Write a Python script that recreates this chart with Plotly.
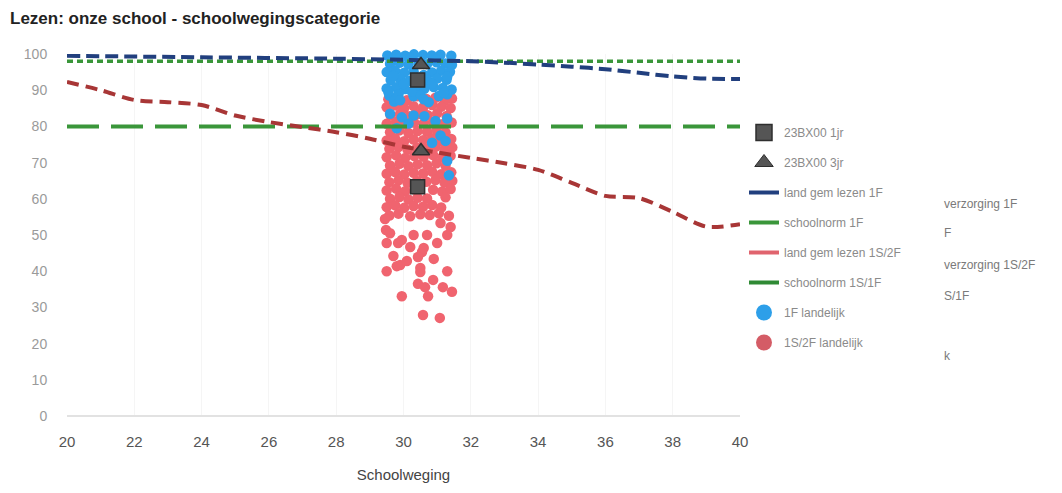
import plotly.graph_objects as go

title_text = "Lezen: onze school - schoolwegingscategorie"
x_ticks = [20, 22, 24, 26, 28, 30, 32, 34, 36, 38, 40]
y_ticks = [0, 10, 20, 30, 40, 50, 60, 70, 80, 90, 100]

# land gem lezen 1F
land_1f_x = [20, 24, 28, 30, 32, 33, 34, 35, 36, 37, 38, 39, 40]
land_1f_y = [99.5, 99.1, 98.7, 98.4, 98.0, 97.6, 97.1, 96.5, 95.8, 94.8, 93.8, 93.2, 93.1]

# schoolnorm 1F
norm_1f_x = [20, 40]
norm_1f_y = [98.0, 98.0]

# land gem lezen 1S/2F
land_1s_x = [20, 21, 22, 23, 24, 25, 26, 27, 28, 29, 30, 31, 32, 33, 34, 35, 36, 37, 38, 39, 40]
land_1s_y = [92.3, 90.0, 87.3, 86.7, 85.9, 83.0, 81.2, 79.8, 78.4, 76.6, 74.4, 72.8, 71.3, 69.8, 68.0, 64.4, 60.8, 60.2, 56.4, 52.3, 53.0]

# schoolnorm 1S/1F
norm_1s_x = [20, 40]
norm_1s_y = [80.0, 80.0]

# 23BX00 1jr / 3jr
school_1jr_x = [30.42, 30.42]
school_1jr_y = [92.8, 63.3]
school_3jr_x = [30.52, 30.52]
school_3jr_y = [97.0, 73.2]

# 1F landelijk
blue_x = [
    29.52, 29.78, 30.05, 30.31, 30.58, 30.84, 31.10, 31.42,
    29.60, 29.88, 30.15, 30.45, 30.70, 30.98, 31.25, 31.44,
    29.50, 29.75, 30.02, 30.30, 30.85, 31.12, 31.38,
    29.62, 29.90, 30.18, 30.45, 30.72, 31.00, 31.28,
    29.50, 29.78, 30.05, 30.35, 30.62, 30.90, 31.17, 31.43,
    29.58, 29.85, 30.30, 30.50, 31.05, 31.30,
    29.72, 30.75,
    29.65, 30.20, 30.95, 29.70, 30.60, 31.30, 30.00, 30.85, 29.55, 30.25, 31.20, 30.60, 29.90,
    29.60, 29.95, 30.30, 30.62, 30.95, 31.30, 30.15, 31.10, 31.25, 30.85, 31.30, 31.35, 29.80,
]
blue_y = [
    99.6, 99.8, 99.5, 99.9, 99.7, 99.6, 99.8, 99.5,
    97.3, 97.6, 97.1, 97.5, 97.2, 97.7, 97.4, 97.0,
    95.0, 95.3, 94.8, 95.2, 94.9, 95.4, 95.1,
    92.8, 93.1, 92.6, 93.0, 92.7, 93.2, 92.9,
    90.5, 90.8, 90.3, 90.7, 90.4, 90.9, 90.6, 90.2,
    88.5, 88.8, 88.3, 88.7, 88.4, 88.9,
    86.9, 86.7,
    98.6, 98.9, 98.4, 94.0, 94.2, 93.8, 91.7, 91.8, 89.5, 89.6, 89.3, 87.5, 87.2,
    83.5, 82.5, 83.0, 82.8, 81.5, 82.2, 80.8, 77.5, 76.0, 75.5, 70.5, 66.5, 79.5,
]

# 1S/2F landelijk
red_x = [
    29.55, 29.82, 30.10, 30.40, 30.68, 30.95, 31.22, 31.44,
    29.50, 29.75, 30.02, 30.30, 30.58, 30.85, 31.12, 31.40,
    29.62, 29.90, 30.18, 30.45, 30.72, 31.00, 31.28,
    29.50, 29.78, 30.05, 30.32, 30.60, 30.88, 31.15, 31.43,
    29.60, 29.88, 30.15, 30.42, 30.70, 30.98, 31.25,
    29.50, 29.75, 30.02, 30.30, 30.58, 30.85, 31.12, 31.42,
    29.58, 29.85, 30.12, 30.40, 30.68, 30.95, 31.22, 31.45,
    29.50, 29.78, 30.05, 30.32, 30.60, 30.88, 31.15, 31.40,
    29.60, 29.88, 30.15, 30.42, 30.70, 30.98, 31.25,
    29.50, 29.75, 30.02, 30.30, 30.58, 30.85, 31.12, 31.42,
    29.58, 29.85, 30.12, 30.40, 30.68, 30.95, 31.22, 31.45,
    29.50, 29.78, 30.05, 30.32, 30.88, 31.15, 31.40,
    29.60, 29.88, 30.15, 30.42, 30.70, 31.25,
    29.50, 29.75, 30.02, 30.30, 30.58, 30.85, 31.12,
    29.58, 29.85, 30.20, 30.50, 30.78, 31.05, 31.35,
    29.45, 29.48, 29.60, 29.50, 29.70, 29.50, 29.80, 29.90, 30.10, 29.84, 29.95, 30.20,
    30.30, 30.55, 30.60, 30.43, 30.90, 31.00, 31.10, 31.40, 31.30, 30.70, 30.50, 30.50,
    31.30, 30.88, 30.43, 30.64, 31.17, 31.44, 29.95, 30.73, 30.58, 31.08,
]
red_y = [
    87.5, 88.0, 87.2, 88.3, 87.6, 87.9, 87.1, 87.7,
    85.3, 85.8, 85.0, 85.6, 85.2, 85.9, 85.4, 85.1,
    83.0, 83.5, 82.8, 83.4, 83.1, 83.6, 82.9,
    80.7, 81.2, 80.5, 81.0, 80.8, 81.3, 80.6, 81.1,
    78.4, 78.9, 78.2, 78.7, 78.5, 79.0, 78.3,
    76.1, 76.6, 75.9, 76.4, 76.2, 76.7, 76.0, 76.5,
    73.8, 74.3, 73.6, 74.1, 73.9, 74.4, 73.7, 74.2,
    71.5, 72.0, 71.3, 71.8, 71.6, 72.1, 71.4, 71.9,
    69.2, 69.7, 69.0, 69.5, 69.3, 69.8, 69.1,
    66.9, 67.4, 66.7, 67.2, 67.0, 67.5, 66.8, 67.3,
    64.6, 65.1, 64.4, 64.9, 64.7, 65.2, 64.5, 65.0,
    62.3, 62.8, 62.1, 62.6, 62.5, 62.0, 62.7,
    60.0, 60.5, 59.8, 60.3, 60.1, 60.4,
    57.7, 58.2, 57.5, 58.0, 57.8, 58.3, 57.6,
    55.4, 55.9, 55.2, 55.7, 55.5, 56.0, 55.3,
    54.4, 51.4, 50.5, 47.8, 44.2, 40.0, 41.4, 41.7, 42.8, 47.8, 48.6, 46.7,
    50.0, 45.3, 46.4, 43.9, 43.4, 47.8, 53.3, 52.2, 50.0, 50.0, 40.9, 39.8,
    40.0, 37.6, 36.5, 35.6, 35.6, 34.3, 33.1, 33.1, 27.9, 27.1,
]

legend_names = ["23BX00 1jr", "23BX00 3jr", "land gem lezen 1F", "schoolnorm 1F",
                "land gem lezen 1S/2F", "schoolnorm 1S/1F", "1F landelijk", "1S/2F landelijk"]
side_texts = ["verzorging 1F", "F", "verzorging 1S/2F", "S/1F", "k"]

C_BLUE_DOT = "#2d9fe9"
C_RED_DOT = "#f0646f"
C_NAVY = "#213f7e"
C_GREEN = "#3a963a"
C_DARKRED = "#a83636"
C_GREY = "#555555"

fig = go.Figure()

fig.add_trace(go.Scatter(x=red_x, y=red_y, mode="markers", showlegend=False, cliponaxis=False,
                         marker=dict(size=10.5, color=C_RED_DOT)))
fig.add_trace(go.Scatter(x=blue_x, y=blue_y, mode="markers", showlegend=False, cliponaxis=False,
                         marker=dict(size=10.5, color=C_BLUE_DOT)))

fig.add_trace(go.Scatter(x=norm_1f_x, y=norm_1f_y, mode="lines", showlegend=False,
                         line=dict(color=C_GREEN, width=3.5, dash="6px,4px")))
fig.add_trace(go.Scatter(x=land_1f_x, y=land_1f_y, mode="lines", showlegend=False,
                         line=dict(color=C_NAVY, width=4, dash="13px,6px", shape="spline", smoothing=0.8)))
fig.add_trace(go.Scatter(x=norm_1s_x, y=norm_1s_y, mode="lines", showlegend=False,
                         line=dict(color=C_GREEN, width=4, dash="32px,12px")))
fig.add_trace(go.Scatter(x=land_1s_x, y=land_1s_y, mode="lines", showlegend=False,
                         line=dict(color=C_DARKRED, width=4, dash="12px,7px", shape="spline", smoothing=0.8)))

fig.add_trace(go.Scatter(x=school_1jr_x, y=school_1jr_y, mode="markers", showlegend=False, cliponaxis=False,
                         marker=dict(symbol="square", size=14, color=C_GREY, line=dict(color="#2e2e2e", width=1.5))))
fig.add_trace(go.Scatter(x=school_3jr_x, y=school_3jr_y, mode="markers", showlegend=False, cliponaxis=False,
                         marker=dict(symbol="triangle-up", size=15, color=C_GREY, line=dict(color="#2e2e2e", width=1.5))))

# legend entries
legend_styles = [
    dict(mode="markers", marker=dict(symbol="square", size=16, color=C_GREY, line=dict(color="#2e2e2e", width=1.5))),
    dict(mode="markers", marker=dict(symbol="triangle-up", size=16, color=C_GREY, line=dict(color="#2e2e2e", width=1))),
    dict(mode="lines", line=dict(color=C_NAVY, width=4)),
    dict(mode="lines", line=dict(color=C_GREEN, width=4)),
    dict(mode="lines", line=dict(color="#e0646e", width=4)),
    dict(mode="lines", line=dict(color="#2f8a34", width=4)),
    dict(mode="markers", marker=dict(size=16, color=C_BLUE_DOT)),
    dict(mode="markers", marker=dict(size=16, color="#d45c66")),
]
for name, st in zip(legend_names, legend_styles):
    fig.add_trace(go.Scatter(x=[None], y=[None], name=name, legendgroup=name, **st))

ann = []
ghost_y = [204, 233, 265, 296, 356]
for txt, py in zip(side_texts, ghost_y):
    ann.append(dict(text=txt, xref="paper", yref="paper", x=(942 - 67) / 673, y=(416 - py) / 362,
                    xanchor="left", yanchor="middle", showarrow=False,
                    font=dict(size=12, color="#7a7a7a")))

fig.update_layout(
    width=1062, height=493,
    margin=dict(l=67, r=322, t=54, b=77),
    paper_bgcolor="white", plot_bgcolor="white",
    font=dict(family="Liberation Sans, Arial, sans-serif"),
    title=dict(text="<b>" + title_text + "</b>", x=10 / 1062, xanchor="left", y=1 - 18 / 493, yanchor="middle",
               font=dict(size=17, color="#222222")),
    legend=dict(x=(744 - 67) / 673, xanchor="left", y=(416 - 118) / 362, yanchor="top",
                font=dict(size=12, color="#8a8a8a"), tracegroupgap=11, bgcolor="rgba(0,0,0,0)"),
    annotations=ann,
    xaxis=dict(range=[20, 40], tickvals=x_ticks, ticks="outside", ticklen=12, tickcolor="rgba(0,0,0,0)",
               tickfont=dict(size=15, color="#555555"), showgrid=True, gridcolor="#f5f5f5",
               zeroline=False, showline=False,
               title=dict(text="Schoolweging", font=dict(size=15, color="#444444"), standoff=20)),
    yaxis=dict(range=[0, 100], tickvals=y_ticks, ticks="outside", ticklen=16, tickcolor="rgba(0,0,0,0)",
               tickfont=dict(size=14, color="#9a9a9a"), showgrid=False,
               zeroline=True, zerolinecolor="#e2e2e2", zerolinewidth=2, showline=False),
)

fig.write_html("out.html", config={"displayModeBar": False},
               post_script="document.body.style.margin='0';document.body.style.overflow='hidden';")
